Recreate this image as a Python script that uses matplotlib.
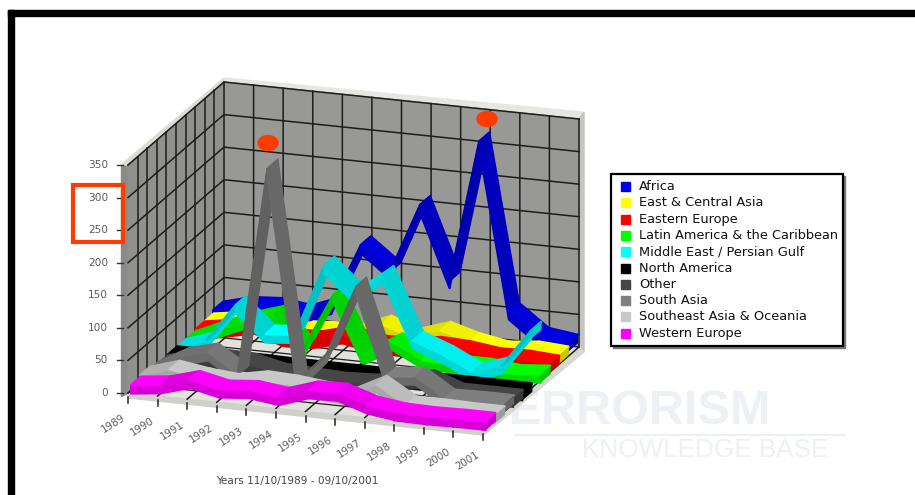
import matplotlib
matplotlib.use("Agg")
import matplotlib.pyplot as plt
from matplotlib.patches import Ellipse, Rectangle, Polygon
import numpy as np

years = list(range(1989, 2002))
y_ticks = [0, 50, 100, 150, 200, 250, 300, 350]

regions = ["Africa", "East & Central Asia", "Eastern Europe", "Latin America & the Caribbean",
           "Middle East / Persian Gulf", "North America", "Other", "South Asia",
           "Southeast Asia & Oceania", "Western Europe"]
colors = ["#0000e6", "#ffff00", "#ff0000", "#00ff00", "#00ffff",
          "#000000", "#464646", "#7f7f7f", "#c8c8c8", "#ff00ff"]

africa = [14, 26, 29, 23, 40, 138, 103, 209, 98, 316, 60, 26, 20]
east_asia = [8, 15, 10, 8, 14, 15, 33, 18, 33, 20, 12, 17, 14]
east_europe = [8, 15, 25, 10, 12, 24, 15, 15, 22, 20, 14, 15, 12]
latin = [5, 25, 44, 58, 12, 98, 8, 35, 12, 10, 10, 5, 9]
mideast = [5, 21, 80, 40, 44, 155, 115, 150, 54, 37, 15, 30, 89]
n_america = [6, 6, 7, 7, 6, 6, 6, 6, 6, 6, 6, 6, 6]
other = [5, 14, 22, 20, 10, 8, 6, 8, 14, 24, 8, 8, 8]
south_asia = [7, 32, 44, 15, 335, 12, 60, 168, 35, 40, 11, 12, 12]
se_asia = [11, 25, 18, 14, 23, 21, 16, 12, 35, 8, 8, 7, 7]
w_europe = [8, 13, 26, 16, 20, 14, 29, 30, 15, 9, 8, 9, 9]
series = [africa, east_asia, east_europe, latin, mideast, n_america, other, south_asia, se_asia, w_europe]

# oblique projection of the chart box onto the picture, in pixels
origin = np.array([128.0, 393.0])
x_vec = np.array([355.0, 37.0])
z_vec = np.array([96.0, -83.0])
v_scale = 228.0 / 350.0
row_step = 0.095
row_width = 0.105
ribbon_drop = 13


def project(year, depth, value):
    t = (year - years[0]) / (years[-1] - years[0])
    p = origin + x_vec * t + z_vec * depth
    return (p[0], p[1] - value * v_scale)


def shade(color, k):
    return tuple(c * k for c in matplotlib.colors.to_rgb(color))


fig = plt.figure(figsize=(9.15, 4.95), dpi=100)
ax = fig.add_axes([0, 0, 1, 1])
ax.set_xlim(0, 915)
ax.set_ylim(495, 0)
ax.axis("off")

# outer frame
ax.add_patch(Rectangle((8, 10), 907, 6, color="black", zorder=1))
ax.add_patch(Rectangle((8, 10), 6, 485, color="black", zorder=1))

# watermark
ax.text(480, 412, "TERRORISM", fontsize=35, color="#edf0f4", family="Liberation Sans",
        ha="left", va="center", fontweight="bold", zorder=1)
ax.plot([515, 845], [435, 435], color="#edf0f4", lw=1.5, zorder=1)
ax.text(582, 450, "KNOWLEDGE BASE", fontsize=18.8, color="#edf0f4", family="Liberation Sans",
        ha="left", va="center", zorder=1)

y0, y1 = years[0], years[-1]
top = y_ticks[-1]
wall = "#989896"
edge = "#dcdcd6"

# wall thickness and top rim
p = [project(y0, 0, 0), project(y0, 0, top), (121, 165), (121, 396)]
ax.add_patch(Polygon(p, color="#8a8a88", zorder=2))
p = [project(y0, 0, top), project(y0, 1, top), (224, 78), (121, 165)]
ax.add_patch(Polygon(p, color=edge, zorder=2))
p = [project(y0, 1, top), project(y1, 1, top), (583, 112), (224, 78)]
ax.add_patch(Polygon(p, color="#e6e6e2", zorder=2))
p = [project(y1, 1, top), project(y1, 1, 0), (584, 352), (584, 112)]
ax.add_patch(Polygon(p, color="#c4c4c0", zorder=2))

# back wall, left wall, floor
p = [project(y0, 1, 0), project(y1, 1, 0), project(y1, 1, top), project(y0, 1, top)]
ax.add_patch(Polygon(p, color=wall, zorder=2))
p = [project(y0, 0, 0), project(y0, 1, 0), project(y0, 1, top), project(y0, 0, top)]
ax.add_patch(Polygon(p, color="#90908e", zorder=2))
p = [project(y0, 0, 0), project(y1, 0, 0), project(y1, 1, 0), project(y0, 1, 0)]
ax.add_patch(Polygon(p, color="#e2e2dc", zorder=2))
fx, fy = project(y1, 0, 0)
p = [project(y0, 0, 0), (fx, fy), (fx, fy + 5), (128, 398)]
ax.add_patch(Polygon(p, color="#d0d0ca", zorder=2))
p = [(fx, fy), project(y1, 1, 0), (584, 352), (fx + 1, fy + 5)]
ax.add_patch(Polygon(p, color="#d8d8d2", zorder=2))

# grid lines
line = dict(color="#1c1c1c", lw=1.1, zorder=3)
for v in y_ticks:
    xs, ys = zip(project(y0, 0, v), project(y0, 1, v), project(y1, 1, v))
    ax.plot(xs, ys, **line)
    tx, ty = project(y0, 0, v)
    ax.plot([tx - 11, tx - 5], [ty, ty], color="#333333", lw=1.0, zorder=3)
    ax.text(tx - 20, ty, str(v), ha="right", va="center", fontsize=7.6, color="#5c5c5c", zorder=3)
for yr in years:
    xs, ys = zip(project(yr, 0, 0), project(yr, 1, 0), project(yr, 1, top))
    ax.plot(xs, ys, **line)
    tx, ty = project(yr, 0, 0)
    ax.plot([tx, tx], [ty + 4, ty + 10], color="#222222", lw=1.1, zorder=3)
    ax.text(tx - 15, ty + 31, str(yr), ha="center", va="center", rotation=32,
            fontsize=7.4, color="#5c5c5c", zorder=3)
for d in np.arange(0.1, 1.0, 0.1):
    xs, ys = zip(project(y0, d, 0), project(y0, d, top))
    ax.plot(xs, ys, **line)
    xs, ys = zip(project(y0, d, 0), project(y1, d, 0))
    ax.plot(xs, ys, color="#1c1c1c", lw=0.9, zorder=3)

# ribbons, back row first
z = 4
for row, (values, col) in enumerate(zip(series, colors)):
    depth = 0.03 + (len(series) - 1 - row) * row_step
    for i in range(len(years) - 1):
        a, b = years[i], years[i + 1]
        va, vb = values[i], values[i + 1]
        slope = abs(vb - va)
        k = 1.0 if slope < 12 else (0.88 if slope < 40 else 0.76)
        if vb < va:
            k = min(1.0, k + 0.06)
        front = [project(a, depth, va), project(b, depth, vb),
                 project(b, depth, vb - ribbon_drop), project(a, depth, va - ribbon_drop)]
        ax.add_patch(Polygon(front, color=shade(col, 0.84 if row != 5 else 1), lw=1.2, zorder=z))
        sheet = [project(a, depth, va), project(b, depth, vb),
                 project(b, depth + row_width, vb), project(a, depth + row_width, va)]
        ax.add_patch(Polygon(sheet, color=shade(col, k), lw=1.6, zorder=z))
    end = [project(y1, depth, values[-1]), project(y1, depth + row_width, values[-1]),
           project(y1, depth + row_width, values[-1] - ribbon_drop),
           project(y1, depth, values[-1] - ribbon_drop)]
    ax.add_patch(Polygon(end, color=shade(col, 0.78), lw=0, zorder=z))
    z += 1

# markers and highlight box
ax.add_patch(Ellipse((268, 143), 20, 15, color="#ff3c00", zorder=20))
ax.add_patch(Ellipse((487, 119), 20, 15, color="#ff3c00", zorder=20))
ax.add_patch(Rectangle((73, 185), 50, 57, fill=False, edgecolor="#ff3c00", lw=3, zorder=20))

ax.text(297, 481, "Years 11/10/1989 - 09/10/2001", ha="center", va="center", fontsize=7.6,
        color="#444444", zorder=20)

# legend box
ax.add_patch(Rectangle((613, 176), 232, 172, color="#777777", zorder=20))
ax.add_patch(Rectangle((611, 174), 232, 172, facecolor="white", edgecolor="black", lw=1.6, zorder=21))
for i, (name, col) in enumerate(zip(regions, colors)):
    y = 186.5 + i * 16.3
    ax.add_patch(Rectangle((621, y - 4.5), 9, 9, color=col, zorder=22))
    ax.text(639, y, name, ha="left", va="center", fontsize=9.3, color="#111111", zorder=22)

fig.savefig("out.png", dpi=100)
